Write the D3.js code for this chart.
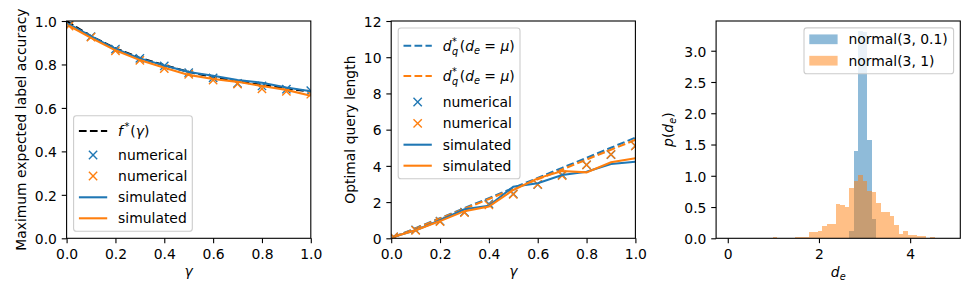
<!DOCTYPE html>
<html>
<head>
<meta charset="utf-8">
<script src="https://cdn.jsdelivr.net/npm/d3@7"></script>
<style>
body { margin: 0; background: #fff; }
text { font-family: "DejaVu Sans", sans-serif; fill: #000; }
</style>
</head>
<body>
<svg width="975" height="300"></svg>
<script>
var WIDTH = 975;
var HEIGHT = 300;
var C0 = '#1f77b4';
var C1 = '#ff7f0e';
var FONT = 13.9;

// ---- data ----
var gamma = [0.01, 0.1, 0.2, 0.3, 0.4, 0.5, 0.6, 0.7, 0.8, 0.9, 1.0];
var gammaStar = [0, 0.1, 0.2, 0.3, 0.4, 0.5, 0.6, 0.7, 0.8, 0.9, 1.0];

// panel 1: maximum expected label accuracy
var accStar = [1.0, 0.93, 0.874, 0.83, 0.797, 0.766, 0.742, 0.722, 0.705, 0.69, 0.675];
var accNumA = [0.982, 0.928, 0.871, 0.828, 0.793, 0.762, 0.738, 0.713, 0.701, 0.686, 0.679];
var accNumB = [0.977, 0.926, 0.863, 0.819, 0.781, 0.755, 0.728, 0.710, 0.688, 0.676, 0.663];
var accSimA = [0.985, 0.930, 0.872, 0.828, 0.795, 0.765, 0.748, 0.728, 0.716, 0.694, 0.677];
var accSimB = [0.978, 0.922, 0.865, 0.820, 0.785, 0.752, 0.733, 0.720, 0.701, 0.683, 0.656];

// panel 2: optimal query length
var qStarA = [0.06, 0.56, 1.11, 1.67, 2.22, 2.78, 3.33, 3.89, 4.44, 5.00, 5.56];
var qStarB = [0.05, 0.54, 1.09, 1.63, 2.17, 2.72, 3.26, 3.80, 4.35, 4.89, 5.44];
var qNumA = [0.08, 0.46, 0.95, 1.45, 1.90, 2.45, 2.97, 3.50, 4.05, 4.62, 5.10];
var qNumB = [0.08, 0.44, 0.92, 1.42, 1.84, 2.43, 2.98, 3.46, 4.05, 4.64, 5.10];
var qSimA = [0.08, 0.45, 1.00, 1.60, 1.80, 2.85, 3.04, 3.50, 3.68, 4.10, 4.23];
var qSimB = [0.08, 0.45, 0.95, 1.50, 1.75, 2.67, 3.31, 3.72, 3.64, 4.20, 4.42];

// panel 3: histograms of d_e (density), shared bin edges
var binEdges = [0.991, 1.090, 1.188, 1.287, 1.386, 1.484, 1.583, 1.681, 1.780, 1.879,
  1.977, 2.076, 2.174, 2.273, 2.372, 2.470, 2.569, 2.667, 2.766, 2.865, 2.963, 3.062,
  3.160, 3.259, 3.358, 3.456, 3.555, 3.653, 3.752, 3.851, 3.949, 4.048, 4.146, 4.245,
  4.344, 4.442, 4.541];
var histNarrow = [0, 0, 0, 0, 0, 0, 0, 0, 0, 0, 0, 0, 0, 0, 0, 0, 0,
  0.12, 1.40, 3.31, 3.30, 1.57, 0.31, 0.01, 0, 0, 0, 0, 0, 0, 0, 0, 0, 0, 0, 0];
var histWide = [0.02, 0, 0, 0, 0, 0.02, 0.02, 0.02, 0.10, 0.10, 0.12, 0.20, 0.23, 0.23,
  0.55, 0.53, 0.50, 0.81, 0.92, 1.02, 0.92, 0.76, 0.74, 0.57, 0.42, 0.42, 0.36, 0.21,
  0.07, 0.12, 0.05, 0.05, 0.04, 0.04, 0, 0.02];

var xTicks01 = [0, 0.2, 0.4, 0.6, 0.8, 1.0];
var yTicksAcc = [0, 0.2, 0.4, 0.6, 0.8, 1.0];
var yTicksLen = [0, 2, 4, 6, 8, 10, 12];
var xTicksDe = [0, 2, 4];
var yTicksDens = [0, 0.5, 1.0, 1.5, 2.0, 2.5, 3.0];

var svg = d3.select('svg');
var TOP = 21, BOTTOM = 238.3, PW = 244.2;
var panelLeft = [66.6, 391.2, 716.1];

var zip = function(xs, ys) {
    return xs.map(function(x, i) { return [x, ys[i]]; });
};

var makeAxes = function(idx, xDomain, yDomain, xTicks, yTicks, xFmt, yFmt) {
    var left = panelLeft[idx];
    var g = svg.append('g').attr('transform', 'translate(' + left + ',' + TOP + ')');
    var w = PW, h = BOTTOM - TOP;
    var x = d3.scaleLinear().domain(xDomain).range([0, w]);
    var y = d3.scaleLinear().domain(yDomain).range([h, 0]);
    g.append('clipPath').attr('id', 'clip' + idx)
        .append('rect').attr('width', w).attr('height', h);
    var plot = g.append('g').attr('clip-path', 'url(#clip' + idx + ')');

    var xAxis = g.append('g').attr('transform', 'translate(0,' + h + ')')
        .call(d3.axisBottom(x).tickValues(xTicks).tickFormat(xFmt)
            .tickSize(4.86).tickPadding(4.86));
    var yAxis = g.append('g')
        .call(d3.axisLeft(y).tickValues(yTicks).tickFormat(yFmt)
            .tickSize(4.86).tickPadding(4.86));
    [xAxis, yAxis].forEach(function(a) {
        a.select('.domain').remove();
        a.selectAll('line').attr('stroke', '#000').attr('stroke-width', 1.1);
        a.selectAll('text').attr('font-size', FONT)
            .attr('font-family', '"DejaVu Sans", sans-serif').attr('fill', '#000');
    });
    xAxis.selectAll('text').attr('dy', '0.76em');
    yAxis.selectAll('text').attr('dy', '0.38em');
    return { g: g, plot: plot, x: x, y: y, w: w, h: h, left: left };
};

var frame = function(ax) {
    ax.g.append('rect').attr('width', ax.w).attr('height', ax.h)
        .attr('fill', 'none').attr('stroke', '#000').attr('stroke-width', 1.1);
};

var drawLine = function(ax, xs, ys, color, dashed) {
    var line = d3.line().x(function(d) { return ax.x(d[0]); }).y(function(d) { return ax.y(d[1]); });
    ax.plot.append('path').datum(zip(xs, ys))
        .attr('d', line).attr('fill', 'none').attr('stroke', color)
        .attr('stroke-width', 2.08)
        .attr('stroke-dasharray', dashed ? '7.7,3.3' : null);
};

var crossPath = function(cx, cy, r) {
    return 'M' + (cx - r) + ',' + (cy - r) + 'L' + (cx + r) + ',' + (cy + r) +
        'M' + (cx - r) + ',' + (cy + r) + 'L' + (cx + r) + ',' + (cy - r);
};

var drawCrosses = function(ax, xs, ys, color) {
    ax.plot.selectAll(null).data(zip(xs, ys)).enter().append('path')
        .attr('d', function(d) { return crossPath(ax.x(d[0]), ax.y(d[1]), 4.15); })
        .attr('stroke', color).attr('stroke-width', 1.39).attr('fill', 'none');
};

// math-ish label helper: italic letters, sub/superscripts via tspans
var addMath = function(t, parts) {
    parts.forEach(function(p) {
        var s = t.append('tspan').text(p.t);
        if (p.i) s.attr('font-style', 'italic');
        if (p.size) s.attr('font-size', p.size);
        if (p.dy) s.attr('dy', p.dy);
        if (p.dx) s.attr('dx', p.dx);
    });
    return t;
};

var fStarParts = [{t: 'f', i: true}, {t: '*', size: 9.7, dy: -5.5, dx: 1.5}, {t: '(', dy: 5.5, dx: 1}, {t: 'γ', i: true}, {t: ')'}];
var dStarParts = [{t: 'd', i: true}, {t: '*', size: 9.7, dy: -5.5, dx: 0.5}, {t: 'q', i: true, size: 9.7, dx: -4.8, dy: 9.5},
    {t: '(', dy: -4, dx: 1.5}, {t: 'd', i: true}, {t: 'e', i: true, size: 9.7, dy: 3}, {t: ' = ', dy: -3}, {t: 'μ', i: true}, {t: ')'}];

var legend = function(box, rows) {
    var g = svg.append('g');
    g.append('rect').attr('x', box[0]).attr('y', box[1])
        .attr('width', box[2] - box[0]).attr('height', box[3] - box[1])
        .attr('rx', 2.8).attr('fill', '#fff').attr('fill-opacity', 0.8)
        .attr('stroke', '#cccccc').attr('stroke-width', 1.1);
    var hx0 = box[0] + 5.3, hx1 = box[0] + 33.6, tx = box[0] + 44.5;
    rows.forEach(function(r) {
        if (r.kind === 'line' || r.kind === 'dash') {
            g.append('line').attr('x1', hx0).attr('x2', hx1).attr('y1', r.y).attr('y2', r.y)
                .attr('stroke', r.color).attr('stroke-width', 2.08)
                .attr('stroke-dasharray', r.kind === 'dash' ? '7.7,3.3' : null);
        } else if (r.kind === 'cross') {
            g.append('path').attr('d', crossPath((hx0 + hx1) / 2, r.y, 4.15))
                .attr('stroke', r.color).attr('stroke-width', 1.39);
        } else if (r.kind === 'patch') {
            g.append('rect').attr('x', hx0).attr('y', r.y - 4.87)
                .attr('width', hx1 - hx0).attr('height', 9.73)
                .attr('fill', r.color).attr('fill-opacity', 0.5);
        }
        var t = g.append('text').attr('x', tx).attr('y', r.y + 4.87).attr('font-size', FONT);
        if (r.parts) addMath(t, r.parts); else t.text(r.label);
    });
};

// ---- panel 1 ----
var fmt1 = d3.format('.1f');
var ax1 = makeAxes(0, [0, 1], [0, 1], xTicks01, yTicksAcc, fmt1, fmt1);
drawLine(ax1, gammaStar, accStar, '#000', true);
drawCrosses(ax1, gamma, accNumA, C0);
drawCrosses(ax1, gamma, accNumB, C1);
drawLine(ax1, gamma, accSimA, C0, false);
drawLine(ax1, gamma, accSimB, C1, false);
frame(ax1);
legend([73.6, 115.7, 192.3, 231.3], [
    {y: 131, kind: 'dash', color: '#000', parts: fStarParts},
    {y: 155, kind: 'cross', color: C0, label: 'numerical'},
    {y: 176, kind: 'cross', color: C1, label: 'numerical'},
    {y: 197.3, kind: 'line', color: C0, label: 'simulated'},
    {y: 218.3, kind: 'line', color: C1, label: 'simulated'}
]);

// ---- panel 2 ----
var ax2 = makeAxes(1, [0, 1], [0, 12], xTicks01, yTicksLen, fmt1, d3.format('d'));
drawLine(ax2, gamma, qStarA, C0, true);
drawLine(ax2, gamma, qStarB, C1, true);
drawCrosses(ax2, gamma, qNumA, C0);
drawCrosses(ax2, gamma, qNumB, C1);
drawLine(ax2, gamma, qSimA, C0, false);
drawLine(ax2, gamma, qSimB, C1, false);
frame(ax2);
legend([398.2, 28, 520, 178.7], [
    {y: 45.7, kind: 'dash', color: C0, parts: dStarParts},
    {y: 76, kind: 'dash', color: C1, parts: dStarParts},
    {y: 102, kind: 'cross', color: C0, label: 'numerical'},
    {y: 123.3, kind: 'cross', color: C1, label: 'numerical'},
    {y: 144.7, kind: 'line', color: C0, label: 'simulated'},
    {y: 165.7, kind: 'line', color: C1, label: 'simulated'}
]);

// ---- panel 3 ----
var densMax = d3.max(histNarrow.concat(histWide)) * 1.05;
var ax3 = makeAxes(2, [-0.256, 5.10], [0, densMax], xTicksDe, yTicksDens, d3.format('d'), fmt1);
[[histNarrow, C0], [histWide, C1]].forEach(function(pair) {
    var bins = pair[0].map(function(v, i) { return {x0: binEdges[i], x1: binEdges[i + 1], v: v}; })
        .filter(function(b) { return b.v > 0; });
    ax3.plot.selectAll(null).data(bins).enter().append('rect')
        .attr('x', function(b) { return ax3.x(b.x0); })
        .attr('width', function(b) { return ax3.x(b.x1) - ax3.x(b.x0); })
        .attr('y', function(b) { return ax3.y(b.v); })
        .attr('height', function(b) { return ax3.y(0) - ax3.y(b.v); })
        .attr('fill', pair[1]).attr('fill-opacity', 0.5)
        .attr('shape-rendering', 'crispEdges');
});
frame(ax3);
legend([804, 27.9, 953.6, 73.7], [
    {y: 39.3, kind: 'patch', color: C0, label: 'normal(3, 0.1)'},
    {y: 60.7, kind: 'patch', color: C1, label: 'normal(3, 1)'}
]);

// ---- axis labels ----
var midY = (TOP + BOTTOM) / 2;
svg.append('text').attr('transform', 'translate(26,' + midY + ') rotate(-90)')
    .attr('text-anchor', 'middle').attr('font-size', FONT).text('Maximum expected label accuracy');
svg.append('text').attr('transform', 'translate(354.8,' + midY + ') rotate(-90)')
    .attr('text-anchor', 'middle').attr('font-size', FONT).text('Optimal query length');
addMath(svg.append('text').attr('transform', 'translate(673,' + midY + ') rotate(-90)')
    .attr('text-anchor', 'middle').attr('font-size', FONT),
    [{t: 'p', i: true}, {t: '('}, {t: 'd', i: true}, {t: 'e', i: true, size: 9.7, dy: 3}, {t: ')', dy: -3}]);

[ax1, ax2].forEach(function(ax) {
    svg.append('text').attr('x', ax.left + ax.w / 2).attr('y', 276)
        .attr('text-anchor', 'middle').attr('font-size', FONT)
        .attr('font-style', 'italic').text('γ');
});
addMath(svg.append('text').attr('x', ax3.left + ax3.w / 2).attr('y', 277)
    .attr('text-anchor', 'middle').attr('font-size', FONT),
    [{t: 'd', i: true}, {t: 'e', i: true, size: 9.7, dy: 3}]);
</script>
</body>
</html>
